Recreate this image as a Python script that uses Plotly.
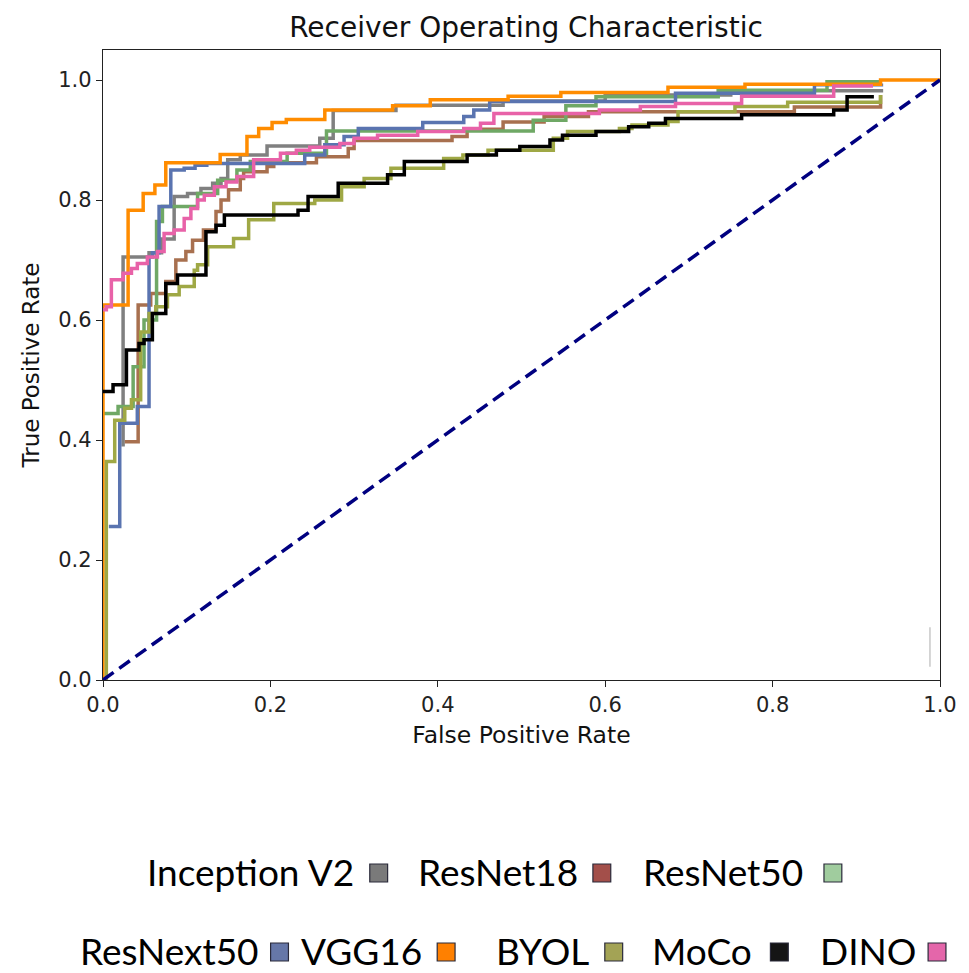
import plotly.graph_objects as go

# ---------------- data ----------------
series_names = ["Inception V2", "ResNet18", "ResNet50", "ResNext50",
                "VGG16", "BYOL", "MoCo", "DINO"]
line_colors = ["#808080", "#a8704f", "#6fa865", "#5a74b0",
               "#ff8c00", "#9fa845", "#000000", "#e862a8"]
legend_colors = ["#7a7a7a", "#a34f4a", "#a0cc9e", "#6677a8",
                 "#ff8000", "#a3a355", "#151515", "#e466aa"]

inception_fpr = [0.024, 0.024, 0.055, 0.070, 0.085, 0.101, 0.117, 0.131, 0.141, 0.149,
                 0.164, 0.196, 0.259, 0.275, 0.350, 0.478, 0.600, 0.750, 0.930]
inception_tpr = [0.389, 0.705, 0.712, 0.735, 0.806, 0.811, 0.819, 0.828, 0.836, 0.867,
                 0.875, 0.890, 0.903, 0.949, 0.958, 0.965, 0.975, 0.982, 0.985]

resnet18_fpr = [0.026, 0.042, 0.057, 0.075, 0.087, 0.099, 0.107, 0.120, 0.135, 0.141,
                0.150, 0.164, 0.168, 0.196, 0.204, 0.255, 0.293, 0.300, 0.417, 0.435,
                0.478, 0.527, 0.580, 0.826, 0.929]
resnet18_tpr = [0.397, 0.625, 0.644, 0.664, 0.700, 0.714, 0.733, 0.750, 0.781, 0.800,
                0.817, 0.836, 0.847, 0.856, 0.862, 0.872, 0.886, 0.899, 0.906, 0.918,
                0.930, 0.939, 0.947, 0.955, 0.975]

resnet50_fpr = [0.0, 0.004, 0.018, 0.036, 0.049, 0.064, 0.071, 0.113, 0.137, 0.160,
                0.176, 0.220, 0.267, 0.514, 0.553, 0.589, 0.735, 0.865, 0.929]
resnet50_tpr = [0.444, 0.444, 0.456, 0.522, 0.600, 0.764, 0.789, 0.811, 0.833, 0.850,
                0.864, 0.878, 0.915, 0.933, 0.957, 0.972, 0.983, 0.997, 0.997]

resnext50_fpr = [0.007, 0.020, 0.041, 0.055, 0.059, 0.067, 0.081, 0.097, 0.110, 0.124,
                 0.241, 0.265, 0.288, 0.305, 0.382, 0.431, 0.443, 0.462, 0.684, 0.850, 0.930]
resnext50_tpr = [0.256, 0.428, 0.456, 0.705, 0.712, 0.789, 0.850, 0.853, 0.858, 0.861,
                 0.875, 0.892, 0.906, 0.919, 0.929, 0.939, 0.950, 0.964, 0.978, 0.992, 0.994]

vgg16_fpr = [0.0, 0.0, 0.030, 0.048, 0.062, 0.075, 0.140, 0.172, 0.186, 0.202,
             0.219, 0.265, 0.346, 0.391, 0.484, 0.547, 0.675, 0.767, 0.929, 1.0]
vgg16_tpr = [0.0, 0.625, 0.783, 0.811, 0.825, 0.862, 0.876, 0.906, 0.919, 0.929,
             0.934, 0.950, 0.957, 0.967, 0.973, 0.979, 0.988, 0.993, 1.0, 1.0]

byol_fpr = [0.0, 0.004, 0.014, 0.026, 0.034, 0.045, 0.055, 0.063, 0.077, 0.091,
            0.109, 0.113, 0.125, 0.156, 0.174, 0.204, 0.253, 0.285, 0.312, 0.344,
            0.407, 0.430, 0.460, 0.538, 0.555, 0.617, 0.632, 0.675, 0.687, 0.755,
            0.818, 0.929]
byol_tpr = [0.0, 0.364, 0.433, 0.453, 0.467, 0.580, 0.611, 0.622, 0.642, 0.656,
            0.683, 0.692, 0.722, 0.736, 0.767, 0.794, 0.800, 0.822, 0.836, 0.853,
            0.869, 0.875, 0.883, 0.903, 0.914, 0.919, 0.925, 0.931, 0.947, 0.956,
            0.963, 0.975]

moco_fpr = [0.0, 0.012, 0.028, 0.043, 0.049, 0.059, 0.075, 0.089, 0.123, 0.135,
            0.145, 0.233, 0.245, 0.281, 0.340, 0.360, 0.435, 0.470, 0.498, 0.534,
            0.549, 0.589, 0.628, 0.652, 0.672, 0.763, 0.873, 0.889, 0.921]
moco_tpr = [0.481, 0.492, 0.550, 0.561, 0.567, 0.611, 0.661, 0.675, 0.747, 0.758,
            0.775, 0.783, 0.806, 0.828, 0.842, 0.864, 0.875, 0.883, 0.889, 0.900,
            0.908, 0.914, 0.922, 0.928, 0.936, 0.942, 0.950, 0.972, 0.972]

dino_fpr = [0.0, 0.004, 0.010, 0.024, 0.034, 0.041, 0.053, 0.065, 0.073, 0.085,
            0.097, 0.105, 0.113, 0.121, 0.133, 0.147, 0.160, 0.180, 0.212, 0.231,
            0.247, 0.283, 0.300, 0.328, 0.376, 0.431, 0.451, 0.467, 0.593, 0.642,
            0.684, 0.763, 0.873, 0.920]
dino_tpr = [0.617, 0.622, 0.667, 0.678, 0.686, 0.694, 0.705, 0.714, 0.744, 0.750,
            0.769, 0.786, 0.800, 0.808, 0.822, 0.830, 0.839, 0.867, 0.878, 0.883,
            0.888, 0.894, 0.903, 0.908, 0.914, 0.919, 0.928, 0.944, 0.950, 0.956,
            0.961, 0.973, 0.990, 0.990]

chance_fpr = [0.0, 1.0]
chance_tpr = [0.0, 1.0]

# faint stray mark visible near the lower-right corner of the reference
stray_fpr = [0.988, 0.988]
stray_tpr = [0.022, 0.088]

x_ticks = [0.0, 0.2, 0.4, 0.6, 0.8, 1.0]
tick_labels = ["0.0", "0.2", "0.4", "0.6", "0.8", "1.0"]

curves = [(inception_fpr, inception_tpr), (resnet18_fpr, resnet18_tpr),
          (resnet50_fpr, resnet50_tpr), (resnext50_fpr, resnext50_tpr),
          (vgg16_fpr, vgg16_tpr), (byol_fpr, byol_tpr),
          (moco_fpr, moco_tpr), (dino_fpr, dino_tpr)]

# ---------------- figure ----------------
W, H = 969, 973
L, R, T, B = 103, 22, 50, 293

fig = go.Figure()
for name, col, (fx, ty) in zip(series_names, line_colors, curves):
    fig.add_trace(go.Scatter(x=fx, y=ty, mode="lines", name=name,
                             line=dict(color=col, width=3.5, shape="hv"),
                             showlegend=False))

fig.add_trace(go.Scatter(x=chance_fpr, y=chance_tpr, mode="lines",
                         line=dict(color="#000080", width=3.5, dash="13px,7px"),
                         showlegend=False))
fig.add_trace(go.Scatter(x=stray_fpr, y=stray_tpr, mode="lines",
                         line=dict(color="#c8c8c8", width=1.5), showlegend=False))

axis_common = dict(showline=True, linecolor="#222", linewidth=1.3, mirror=True,
                   ticks="outside", ticklen=6, tickwidth=1.3, tickcolor="#222",
                   showgrid=False, zeroline=False,
                   tickfont=dict(family="DejaVu Sans", size=21, color="#222"),
                   tickvals=x_ticks, ticktext=tick_labels)

pw, ph = W - L - R, H - T - B

fig.update_layout(
    width=W, height=H,
    margin=dict(l=L, r=R, t=T, b=B),
    paper_bgcolor="white", plot_bgcolor="white",
    title=dict(text="Receiver Operating Characteristic", x=526 / W,
               xanchor="center", y=1 - 27 / H, yanchor="middle",
               font=dict(family="DejaVu Sans", size=28, color="#111")),
    xaxis=dict(range=[0, 1], title=dict(text="False Positive Rate", standoff=10,
               font=dict(family="DejaVu Sans", size=23.5, color="#111")), **axis_common),
    yaxis=dict(range=[0, 1.05], title=dict(text="True Positive Rate", standoff=12,
               font=dict(family="DejaVu Sans", size=23, color="#111")), **axis_common),
)

# ---------------- custom legend below the plot ----------------
def px_x(px):
    return (px - L) / pw


def px_y(py):
    return (H - B - py) / ph


# (text left, text right, square left, row center y) in reference pixels
legend_layout = [
    (147, 356, 372, 871), (421, 581, 597, 871), (648, 808, 830, 871),
    (82, 258, 272, 950), (303, 425, 440, 950), (499, 593, 609, 950),
    (655, 760, 776, 950), (830, 918, 935, 950),
]
sq = 18
for name, col, (tl, tr, sl, cy) in zip(series_names, legend_colors, legend_layout):
    fig.add_annotation(text=name, xref="paper", yref="paper",
                       x=px_x((tl + tr) / 2), y=px_y(cy), xanchor="center", yanchor="middle",
                       showarrow=False, font=dict(family="Lato", size=37, color="#000"))
    fig.add_shape(type="rect", xref="paper", yref="paper",
                  x0=px_x(sl), x1=px_x(sl + sq), y0=px_y(cy + 2 + sq / 2), y1=px_y(cy + 2 - sq / 2),
                  fillcolor=col, line=dict(color="#2a2a3a", width=1.2))

fig.write_html("out.html", config={"displayModeBar": False},
               post_script="document.body.style.margin='0';document.body.style.overflow='hidden';")
